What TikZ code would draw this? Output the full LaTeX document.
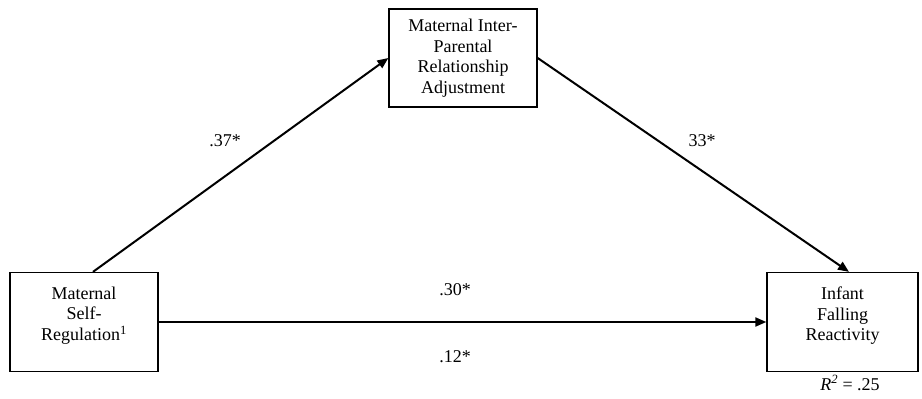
\documentclass[tikz,border=0pt]{standalone}
\usepackage{fontspec}
\setmainfont{Liberation Serif}
\usetikzlibrary{arrows.meta}
\begin{document}
\begin{tikzpicture}[x=1pt,y=-1pt,
  box/.style={draw,line width=1.3pt,align=center,inner sep=0pt,font=\fontsize{18}{20.5}\selectfont},
  conn/.style={line width=2pt,-{Triangle[length=11pt,width=9pt]}},
  lbl/.style={font=\fontsize{18}{20}\selectfont}]
\useasboundingbox (0,0) rectangle (922,399);
\node[box,minimum width=148pt,minimum height=99pt] (msr) at (84,322) {Maternal\\Self-\\Regulation\textsuperscript{1}\\[-4pt]\mbox{}};
\node[box,minimum width=148pt,minimum height=98pt] (mipr) at (463,58) {Maternal Inter-\\Parental\\Relationship\\Adjustment};
\node[box,minimum width=151pt,minimum height=99pt] (ifr) at (842.5,322) {Infant\\Falling\\Reactivity\\[-4pt]\mbox{}};
\node[lbl] (r2) at (850,383) {\textit{R}\textsuperscript{\textit{2}} = .25};
\draw[conn] (msr.north west -| 93,0) -- (mipr.west);
\draw[conn] (mipr.east) -- (ifr.north west -| 849,0);
\draw[conn] (msr.east) -- (ifr.west);
\node[lbl] (l1) at (225,141) {.37*};
\node[lbl] (l2) at (702,141) {33*};
\node[lbl] (l3) at (455,290) {.30*};
\node[lbl] (l4) at (455,357) {.12*};
\end{tikzpicture}
\end{document}
